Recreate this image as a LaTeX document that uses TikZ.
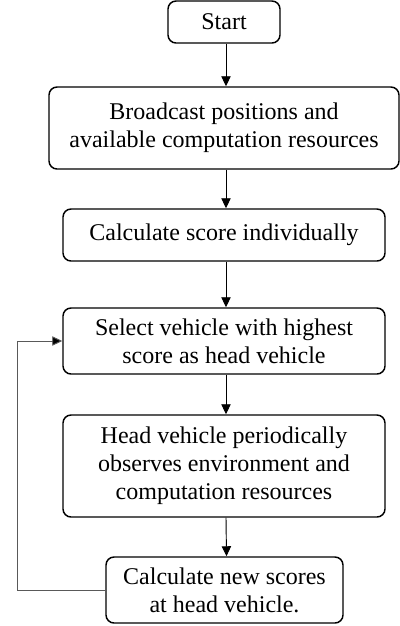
\documentclass[tikz,border=0pt]{standalone}
\usepackage{fontspec}
\setmainfont{Liberation Serif}
\usetikzlibrary{arrows.meta}
\begin{document}
\begin{tikzpicture}[x=0.75pt,y=-0.75pt,
  stepbox/.style={draw,line width=1.1pt,rounded corners=6pt,align=center,
    inner sep=0pt,font=\fontsize{18}{21}\selectfont},
  flow/.style={line width=0.7pt,-{Triangle[length=7.5pt,width=7pt]}}]
\useasboundingbox (0,0) rectangle (400,626);
\node[stepbox,minimum width=112*0.75pt,minimum height=42*0.75pt] (start) at (224,22) {Start};
\node[stepbox,minimum width=350*0.75pt,minimum height=82*0.75pt] (bcast) at (224,128)
  {Broadcast positions and\\available computation resources};
\node[stepbox,minimum width=322*0.75pt,minimum height=52*0.75pt] (calc) at (224,235)
  {Calculate score individually};
\node[stepbox,minimum width=322*0.75pt,minimum height=66*0.75pt] (select) at (224,341)
  {Select vehicle with highest\\score as head vehicle};
\node[stepbox,minimum width=322*0.75pt,minimum height=102*0.75pt] (head) at (224,466)
  {Head vehicle periodically\\observes environment and\\computation resources};
\node[stepbox,minimum width=237*0.75pt,minimum height=66*0.75pt] (new) at (224.5,590)
  {Calculate new scores\\at head vehicle.};
% vertical connectors run slightly right of the box centres
\foreach \a/\b in {start/bcast,bcast/calc,calc/select,select/head,head/new}
  \draw[flow] ([xshift=1.5pt]\a.south) -- ([xshift=1.5pt]\b.north);
% feedback loop back to the head-vehicle selection
\coordinate (loopx) at (17,0);
\draw[flow,draw=black!65,-{Triangle[length=7.5pt,width=7pt,fill=black]}]
  (new.west) -- (new.west -| loopx) |- (select.west);
\end{tikzpicture}
\end{document}
